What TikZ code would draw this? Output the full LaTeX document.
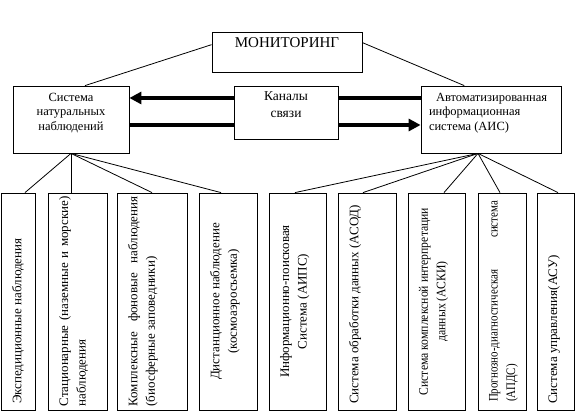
\documentclass[tikz,border=0pt]{standalone}
\usepackage{fontspec}
\setmainfont{Liberation Serif}
\newfontfamily\rconda{Liberation Serif}[FakeStretch=0.9]
\newfontfamily\rcondb{Liberation Serif}[FakeStretch=0.84]
\usetikzlibrary{arrows.meta,calc}
\newcommand\fm{\fontsize{15}{18}\selectfont}
\newcommand\fa{\fontsize{12.5}{14.5}\selectfont}
\newcommand\fk{\fontsize{13.5}{16.5}\selectfont}
\newcommand\fr{\fontsize{13}{17.5}\selectfont}
\newcommand\vcell[3]{\parbox[c][#1][t]{217pt}{\vspace*{11pt}\centering\begin{minipage}[t]{#2}\fr #3\end{minipage}}}
\begin{document}
\begin{tikzpicture}[x=1pt,y=-1pt,
  box/.style={draw,line width=0.8pt,inner sep=0pt},
  vbx/.style={box,rotate=90},
  conn/.style={line width=0.8pt},
  bigarrow/.style={line width=4pt,-{Triangle[length=12pt,width=12pt]}},
  bigline/.style={line width=4pt}]
\useasboundingbox (0,0) rectangle (579,419);
\node[box] (M) at (287,52) {\parbox[c][40pt][t]{150pt}{\vspace*{6pt}\centering\fm МОНИТОРИНГ}};
\node[box] (L) at (71,119.5) {\parbox[c][67pt][t]{116pt}{\vspace*{7pt}\centering\fa Система\\натуральных\\наблюдений}};
\node[box] (K) at (286,112.5) {\parbox[c][53pt][t]{104pt}{\vspace*{6pt}\centering\fk Каналы\\связи}};
\node[box] (R) at (491,119.5) {\parbox[c][67pt][t]{140pt}{\vspace*{7pt}\fa\raggedright\leftskip=8pt\hspace*{7pt}Автоматизированная\\информационная\\система (АИС)}};
\node[vbx] (b1) at (18,301.5) {\vcell{34pt}{205pt}{\raggedright Экспедиционные наблюдения}};
\node[vbx] (b2) at (77.5,301.5) {\vcell{59pt}{210pt}{Стационарные (наземные и морские)\linebreak наблюдения}};
\node[vbx] (b3) at (152,301.5) {\vcell{70pt}{210pt}{Комплексные фоновые наблюдения\linebreak (биосферные заповедники)}};
\node[vbx] (b4) at (228,301.5) {\vcell{58pt}{205pt}{\centering Дистанционное наблюдение\\(космоаэросъемка)}};
\node[vbx] (b5) at (297.5,301.5) {\vcell{57pt}{205pt}{\centering Информационно-поисковая\\Система (АИПС)}};
\node[vbx] (b6) at (367,301.5) {\vcell{58pt}{205pt}{\raggedright Система обработки данных (АСОД)}};
\node[vbx] (b7) at (436.5,301.5) {\vcell{57pt}{202pt}{\rconda\centering Система комплексной интерпретации\\данных (АСКИ)}};
\node[vbx] (b8) at (502,301.5) {\vcell{48pt}{201pt}{\rcondb Прогнозно-диагностическая система\linebreak (АПДС)}};
\node[vbx] (b9) at (555.5,301.5) {\vcell{37pt}{205pt}{\raggedright Система управления(АСУ)}};
\draw[conn] ($(M.north west)!0.32!(M.south west)$) -- ($(L.north west)!0.62!(L.north east)$);
\draw[conn] ($(M.north east)!0.27!(M.south east)$) -- ($(R.north west)!0.31!(R.north east)$);
\foreach \b/\s in {b1/7,b2/-6.5,b3/0,b4/-7} \draw[conn] (L.south) -- ([xshift=\s pt]\b.east);
\coordinate (rf) at ([xshift=-13pt]R.south);
\foreach \b/\s in {b5/-2.5,b6/-4,b7/7.5,b8/-2,b9/2.5} \draw[conn] (rf) -- ([xshift=\s pt]\b.east);
\coordinate (k1) at ([yshift=14.5pt]K.west);
\coordinate (k2) at ([yshift=-12.5pt]K.west);
\coordinate (k3) at ([yshift=14.5pt]K.east);
\coordinate (k4) at ([yshift=-12.5pt]K.east);
\draw[bigarrow] (k1) -- (k1 -| L.east);
\draw[bigline] (k2) -- (k2 -| L.east);
\draw[bigline] (k3) -- (k3 -| R.west);
\draw[bigarrow] (k4) -- (k4 -| R.west);
\end{tikzpicture}
\end{document}
